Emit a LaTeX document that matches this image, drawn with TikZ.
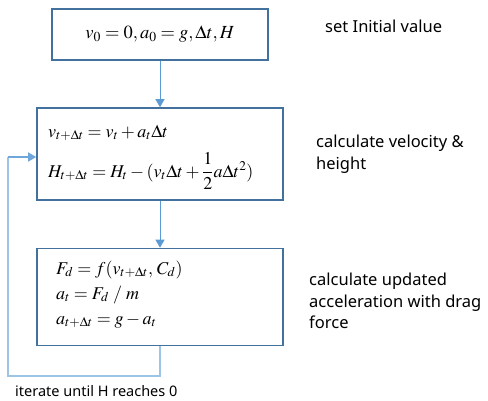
\documentclass[tikz,border=0pt]{standalone}
\usepackage{amsmath}
\usepackage{mathptmx}
\usepackage[no-math]{fontspec}
\newfontfamily\lblfont{Noto Sans}
\usetikzlibrary{arrows.meta}
\definecolor{boxc}{HTML}{41719C}
\definecolor{arrc}{HTML}{5B9BD5}
\definecolor{loopc}{HTML}{9DC3E6}
\tikzset{
  box/.style={draw=boxc, line width=1.6pt, fill=white, inner sep=0pt,
    font=\fontsize{18.5}{22}\selectfont},
  content/.style={inner sep=0pt, anchor=base west,
    font=\fontsize{18}{22}\selectfont},
  lbl/.style={inner sep=0pt, align=left, anchor=west,
    font=\lblfont\fontsize{16.5}{21.5}\selectfont},
  flow/.style={draw=arrc, line width=1pt, -{Triangle[length=8pt,width=9pt]}},
  loopline/.style={draw=loopc, line width=1.5pt},
}
\begin{document}
\begin{tikzpicture}[x=1pt,y=-1pt]
\useasboundingbox (0,0) rectangle (488,400);
% boxes
\node[box, minimum width=216pt, minimum height=51pt] (b1) at (160,34.5) {$v_0=0, a_0=g, \Delta t, H$};
\node[box, minimum width=246pt, minimum height=92pt] (b2) at (160,154) {};
\node[box, minimum width=246pt, minimum height=97pt] (b3) at (160,297) {};
% contents
\node[content] (c2a) at (48,137) {$v_{t+\Delta t}=v_t+a_t\Delta t$};
\node[content] (c2b) at (48,177) {$H_{t+\Delta t}=H_t-(v_t\Delta t+\dfrac{1}{2}a\Delta t^2)$};
\node[content] (c3a) at (56,274) {$F_d=f(v_{t+\Delta t},\,C_d)$};
\node[content] (c3b) at (56,299) {$a_t=F_d\;/\;m$};
\node[content] (c3c) at (56,324) {$a_{t+\Delta t}=g-a_t$};
% labels
\node[lbl] (l1) at (325,26) {set Initial value};
\node[lbl] (l2) at (316,154) {calculate velocity \&\\height};
\node[lbl] (l3) at (309,301) {calculate updated\\acceleration with drag\\force};
\node[lbl, anchor=base west, font=\lblfont\fontsize{14.5}{16}\selectfont] (l4) at (15,396) {iterate until H reaches 0};
% connectors
\draw[flow] (b1.south) -- (b2.north);
\draw[flow] (b2.south) -- (b3.north);
\coordinate (lc1) at (8,376);
\coordinate (lc2) at (8,157);
\coordinate (in2) at (b2.west |- lc2);
\draw[loopline] (b3.south) |- (lc1) -- (lc2);
\draw[flow, line width=1.5pt, draw=arrc!70!loopc] (lc2) -- (in2);
\end{tikzpicture}
\end{document}
